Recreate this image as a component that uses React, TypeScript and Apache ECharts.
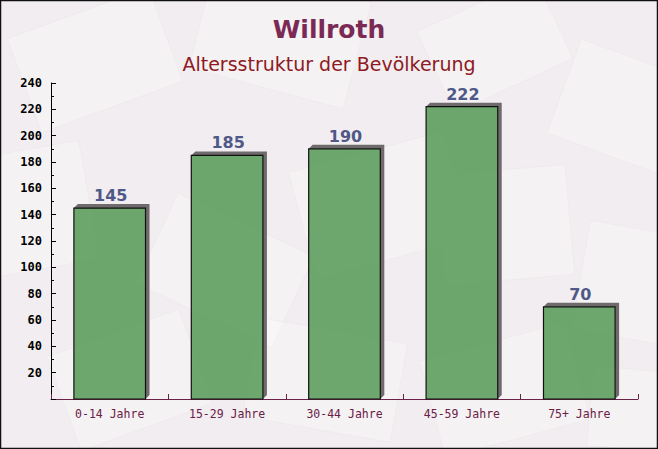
import React, { useEffect, useRef } from "react";
import * as echarts from "echarts";

const categories = ["0-14 Jahre", "15-29 Jahre", "30-44 Jahre", "45-59 Jahre", "75+ Jahre"];
const values = [145, 185, 190, 222, 70];
const yTicks = [0, 20, 40, 60, 80, 100, 120, 140, 160, 180, 200, 220, 240];
const titleText = "Willroth";
const subtitleText = "Altersstruktur der Bevölkerung";

// decorative background "envelopes": [x, y, w, h, rotationDeg]
const envelopes: number[][] = [
  [20, 10, 150, 100, 20],
  [200, -20, 160, 110, -15],
  [430, 0, 130, 90, 25],
  [560, 60, 140, 100, -20],
  [-30, 150, 120, 120, 10],
  [150, 220, 150, 100, -25],
  [300, 150, 160, 110, 15],
  [440, 170, 130, 110, 5],
  [580, 230, 120, 110, -10],
  [60, 330, 140, 100, 20],
  [250, 330, 150, 100, -10],
  [430, 340, 150, 100, 15],
  [590, 370, 100, 80, -5],
];

export default function App() {
  const ref = useRef<HTMLDivElement>(null);
  useEffect(() => {
    if (!ref.current) return;
    const chart = echarts.init(ref.current, undefined, { renderer: "svg" });
    const bg = envelopes.map((e) => ({
      type: "rect",
      x: e[0] + e[2] / 2,
      y: e[1] + e[3] / 2,
      originX: 0,
      originY: 0,
      rotation: (e[4] * Math.PI) / 180,
      shape: { x: -e[2] / 2, y: -e[3] / 2, width: e[2], height: e[3] },
      style: { fill: "rgba(255,255,255,0.3)", stroke: "rgba(235,228,232,0.4)", lineWidth: 1 },
      silent: true,
      z: -10,
    }));
    chart.setOption({
      animation: false,
      backgroundColor: "#f1edf0",
      title: [
        {
          text: titleText,
          left: "center",
          top: 12,
          textStyle: { fontFamily: "DejaVu Sans", fontSize: 25, fontWeight: "bold", color: "#7a2a55" },
        },
        {
          text: subtitleText,
          left: "center",
          top: 49,
          textStyle: { fontFamily: "DejaVu Sans", fontSize: 19, fontWeight: "normal", color: "#8e1a22" },
        },
      ],
      graphic: [
        ...bg,
        {
          type: "rect",
          shape: { x: 0.5, y: 0.5, width: 657, height: 448 },
          style: { fill: "none", stroke: "#111", lineWidth: 1.5 },
          silent: true,
          z: 100,
        },
      ],
      grid: { left: 51, right: 20, top: 83, bottom: 50 },
      xAxis: {
        type: "category",
        data: categories,
        boundaryGap: true,
        axisLine: { lineStyle: { color: "#6b2046", width: 1 } },
        axisTick: { show: true, inside: true, length: 5, alignWithLabel: false, lineStyle: { color: "#6b2046" } },
        axisLabel: { fontFamily: "DejaVu Sans Mono", fontSize: 11.5, color: "#6b2046", margin: 9 },
        splitLine: { show: false },
      },
      yAxis: {
        type: "value",
        min: yTicks[0],
        max: yTicks[yTicks.length - 1],
        interval: 20,
        axisLine: { show: true, lineStyle: { color: "#000", width: 1 } },
        axisTick: { show: true, inside: true, length: 5, lineStyle: { color: "#000" } },
        minorTick: { show: true, splitNumber: 2, length: 3, lineStyle: { color: "#000" } },
        axisLabel: {
          fontFamily: "DejaVu Sans Mono",
          fontSize: 12,
          fontWeight: "bold",
          color: "#000",
          margin: 9,
          formatter: (v: number) => (v === 0 ? "" : String(v)),
        },
        splitLine: { show: false },
      },
      series: [
        {
          type: "custom",
          data: values.map((v, i) => [i, v]),
          encode: { x: 0, y: 1 },
          renderItem: (params: any, api: any) => {
            const idx = api.value(0);
            const val = api.value(1);
            const top = api.coord([idx, val]);
            const base = api.coord([idx, 0]);
            const band = api.size([1, 0])[0];
            const w = band * 0.61;
            const x0 = top[0] - w / 2;
            const x1 = top[0] + w / 2;
            const yT = top[1];
            const yB = base[1];
            const d = 4;
            return {
              type: "group",
              children: [
                {
                  type: "polygon",
                  shape: {
                    points: [
                      [x0, yT],
                      [x0 + d, yT - d],
                      [x1 + d, yT - d],
                      [x1 + d, yB - d],
                      [x1, yB],
                      [x1, yT],
                    ],
                  },
                  style: { fill: "#6f6a6c" },
                },
                {
                  type: "rect",
                  shape: { x: x0, y: yT, width: w, height: yB - yT },
                  style: { fill: "rgba(90,156,90,0.88)", stroke: "#111", lineWidth: 1.2 },
                },
                {
                  type: "text",
                  x: top[0] + 1,
                  y: yT - d - 0.5,
                  style: {
                    text: String(val),
                    fontFamily: "DejaVu Sans",
                    fontSize: 16,
                    fontWeight: "bold",
                    fill: "#4f5886",
                    align: "center",
                    verticalAlign: "bottom",
                  },
                },
              ],
            };
          },
          z: 2,
        },
      ],
    });
    return () => chart.dispose();
  }, []);
  return (
    <div
      ref={ref}
      style={{ position: "fixed", left: 0, top: 0, width: 658, height: 449 }}
    />
  );
}
